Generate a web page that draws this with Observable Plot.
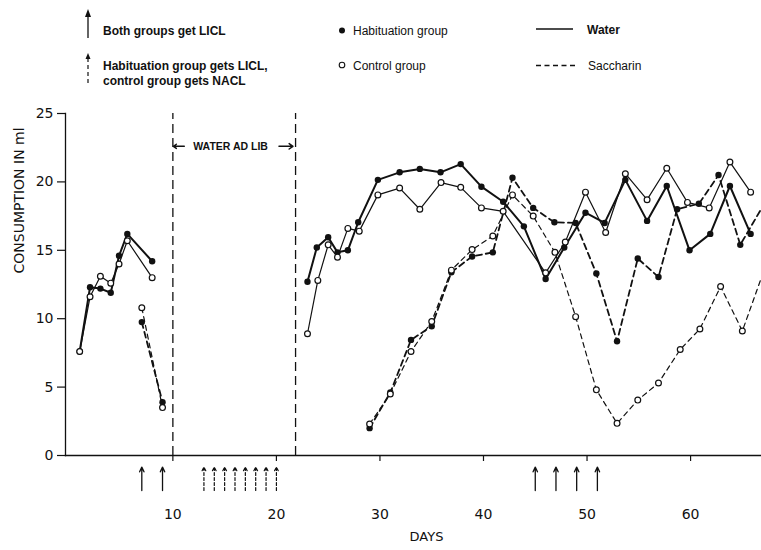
<!DOCTYPE html>
<html><head><meta charset="utf-8">
<script src="https://cdn.jsdelivr.net/npm/d3@7"></script>
<script src="https://cdn.jsdelivr.net/npm/@observablehq/plot@0.6"></script>
<style>
body{margin:0;background:#fff;}
#wrap{position:relative;width:761px;height:550px;overflow:hidden;background:#fff;}
#legend{position:relative;width:761px;height:100px;}
#legend svg{position:absolute;left:0;top:0;}
</style></head><body>
<div id="wrap"><div id="legend"></div><div id="chart"></div></div>
<script>
// ---- data (days, consumption in ml) ----
const waterHabDays = [1, 2, 3, 4, 4.8, 5.6, 8, 23, 23.9, 25, 25.9, 26.9, 27.9, 29.8, 31.9, 33.85, 35.85, 37.8, 39.8, 41.9, 43.9, 46, 47.8, 49.85, 51.7, 53.7, 55.8, 57.7, 59.9, 61.9, 63.8, 65.8];
const waterHabMl   = [7.6, 12.3, 12.2, 11.9, 14.6, 16.2, 14.2, 12.7, 15.2, 15.95, 14.85, 15.0, 17.05, 20.15, 20.7, 20.95, 20.7, 21.3, 19.65, 18.55, 16.75, 12.9, 15.2, 17.75, 17.0, 20.15, 17.15, 19.7, 15.0, 16.2, 19.7, 16.2];
const waterCtlDays = [1, 2, 3, 4, 4.8, 5.6, 8, 23, 24, 25, 25.9, 26.9, 28, 29.8, 31.9, 33.85, 35.9, 37.8, 39.8, 41.9, 46, 47.9, 49.85, 51.8, 53.7, 55.8, 57.7, 59.7, 61.8, 63.8, 65.8];
const waterCtlMl   = [7.6, 11.6, 13.1, 12.6, 14.0, 15.7, 13.0, 8.9, 12.8, 15.4, 14.5, 16.6, 16.4, 19.05, 19.55, 18.0, 19.95, 19.6, 18.1, 17.85, 13.35, 15.6, 19.25, 16.3, 20.6, 18.7, 21.0, 18.5, 18.1, 21.45, 19.25];
const sacHabDays = [7, 9, 29, 31, 33, 35, 36.9, 38.9, 40.9, 42.8, 44.8, 46.85, 48.9, 50.9, 52.9, 54.9, 56.9, 58.7, 60.8, 62.7, 64.8, 67.5];
const sacHabMl   = [9.75, 3.9, 2.0, 4.6, 8.45, 9.45, 13.4, 14.55, 14.85, 20.3, 18.1, 17.05, 17.0, 13.3, 8.35, 14.4, 13.05, 18.0, 18.4, 20.5, 15.4, 18.9];
const sacCtlDays = [7, 9, 29, 31, 33, 35, 36.9, 38.9, 40.9, 42.8, 44.8, 46.9, 48.9, 50.9, 52.9, 54.9, 56.9, 59, 60.9, 62.9, 65, 67.5];
const sacCtlMl   = [10.8, 3.5, 2.3, 4.5, 7.6, 9.8, 13.55, 15.05, 16.05, 19.05, 17.5, 14.85, 10.15, 4.8, 2.35, 4.05, 5.3, 7.75, 9.25, 12.35, 9.1, 14.4];
const bothLiClDays = [7, 9, 45, 47, 49, 51];            // solid arrows
const habLiClDays  = [13, 14, 15, 16, 17, 18, 19, 20];  // dashed arrows
const adLibBounds  = [10, 21.85];                       // water ad lib period
const xTicks = [10, 20, 30, 40, 50, 60];
const yTicks = [0, 5, 10, 15, 20, 25];
const labels = {
  y: "CONSUMPTION IN ml", x: "DAYS", adLib: "WATER AD LIB",
  both: "Both groups get LICL", hab1: "Habituation group gets LICL,", hab2: "control group gets NACL",
  habGroup: "Habituation group", ctlGroup: "Control group", water: "Water", sac: "Saccharin"
};

const rows = (group, fluid, days, vals) => days.map((d, i) => ({group, fluid, day: d, ml: vals[i], key: group + fluid + (d < adLibBounds[0] ? 1 : 2)}));
const wH = rows("hab", "water", waterHabDays, waterHabMl);
const wC = rows("ctl", "water", waterCtlDays, waterCtlMl);
const sH = rows("hab", "sac", sacHabDays, sacHabMl);
const sC = rows("ctl", "sac", sacCtlDays, sacCtlMl);

// ---- legend (above the chart) ----
const lg = `
<svg width="761" height="100" font-family="Liberation Sans, Arial, sans-serif" font-size="12" fill="#111">
  <line x1="88" y1="38" x2="88" y2="12" stroke="#111" stroke-width="1.3"/>
  <path d="M85,17 L88,9 L91,17 Z" fill="#111"/>
  <text x="103" y="35" font-weight="bold">${labels.both}</text>
  <line x1="88" y1="83" x2="88" y2="57" stroke="#111" stroke-width="1.2" stroke-dasharray="4,3"/>
  <path d="M85.5,59 L88,53 L90.5,59 Z" fill="#111"/>
  <text x="103" y="70" font-weight="bold">${labels.hab1}</text>
  <text x="103" y="85" font-weight="bold">${labels.hab2}</text>
  <circle cx="342" cy="30.5" r="3" fill="#111"/>
  <text x="353" y="35">${labels.habGroup}</text>
  <circle cx="342" cy="65" r="2.8" fill="#fff" stroke="#111" stroke-width="1.1"/>
  <text x="353" y="69.5">${labels.ctlGroup}</text>
  <line x1="536" y1="29" x2="573" y2="29" stroke="#111" stroke-width="1.4"/>
  <text x="587" y="34" font-weight="bold">${labels.water}</text>
  <line x1="536" y1="65.5" x2="575" y2="65.5" stroke="#111" stroke-width="1.3" stroke-dasharray="5,3.5"/>
  <text x="588" y="70">${labels.sac}</text>
</svg>`;
document.getElementById("legend").innerHTML = lg;

// ---- chart ----
const chart = Plot.plot({
  width: 761, height: 450,
  marginLeft: 65, marginRight: 0, marginTop: 13, marginBottom: 95,
  x: {domain: [-0.37, 66.85]},
  y: {domain: [0, 25]},
  style: {fontFamily: "DejaVu Sans, sans-serif", fontSize: "14px", color: "#111", background: "white"},
  marks: [
    Plot.ruleX(adLibBounds, {y1: 0, y2: 25, stroke: "#111", strokeWidth: 1.3, strokeDasharray: "9,5"}),
    Plot.frame({anchor: "left", stroke: "#111", strokeWidth: 1.3}),
    Plot.frame({anchor: "bottom", stroke: "#111", strokeWidth: 1.3}),
    Plot.axisY({ticks: yTicks, tickSize: 8, tickPadding: 4, label: null, fontSize: 14, strokeWidth: 1.2}),
    Plot.axisX({ticks: xTicks, tickSize: 6, tickPadding: 48, label: null, fontSize: 14, strokeWidth: 1.2}),
    Plot.text([labels.y], {frameAnchor: "left", rotate: -90, dx: -46, dy: -11, fontSize: 14}),
    Plot.text([labels.x], {frameAnchor: "bottom", dx: 13, dy: 85, fontSize: 13, fontWeight: 500}),
    Plot.text([labels.adLib], {x: (adLibBounds[0] + adLibBounds[1]) / 2 - 0.35, y: 22.6, fontSize: 10.5, fontWeight: "bold", fontFamily: "Liberation Sans, Arial, sans-serif"}),
    Plot.arrow([{a: adLibBounds[0] + 1.1, b: adLibBounds[0] + 0.05}, {a: adLibBounds[1] - 1.6, b: adLibBounds[1] - 0.25}],
      {x1: "a", x2: "b", y: 22.6, headLength: 5, headAngle: 70, strokeWidth: 1.5, stroke: "#111"}),
    // lines
    Plot.line(wC, {x: "day", y: "ml", z: "key", stroke: "#111", strokeWidth: 1.2}),
    Plot.line(wH, {x: "day", y: "ml", z: "key", stroke: "#111", strokeWidth: 2}),
    Plot.line(sC, {x: "day", y: "ml", z: "key", stroke: "#111", strokeWidth: 1.2, strokeDasharray: "5,4"}),
    Plot.line(sH, {x: "day", y: "ml", z: "key", stroke: "#111", strokeWidth: 1.8, strokeDasharray: "6,4"}),
    // dots
    Plot.dot([...wH, ...sH], {x: "day", y: "ml", r: 3.2, fill: "#111"}),
    Plot.dot([...wC, ...sC], {x: "day", y: "ml", r: 2.9, fill: "white", stroke: "#111", strokeWidth: 1.2}),
    // treatment arrows under the axis
    Plot.arrow(bothLiClDays, {x1: d => d, x2: d => d, y1: -2.56, y2: -0.85, headLength: 6, headAngle: 50, stroke: "#111", strokeWidth: 1.3}),
    Plot.arrow(habLiClDays, {x1: d => d, x2: d => d, y1: -2.56, y2: -0.85, headLength: 5, headAngle: 55, stroke: "#111", strokeWidth: 1.2, strokeDasharray: "3,2"})
  ]
});
document.getElementById("chart").appendChild(chart);
</script>
</body></html>
